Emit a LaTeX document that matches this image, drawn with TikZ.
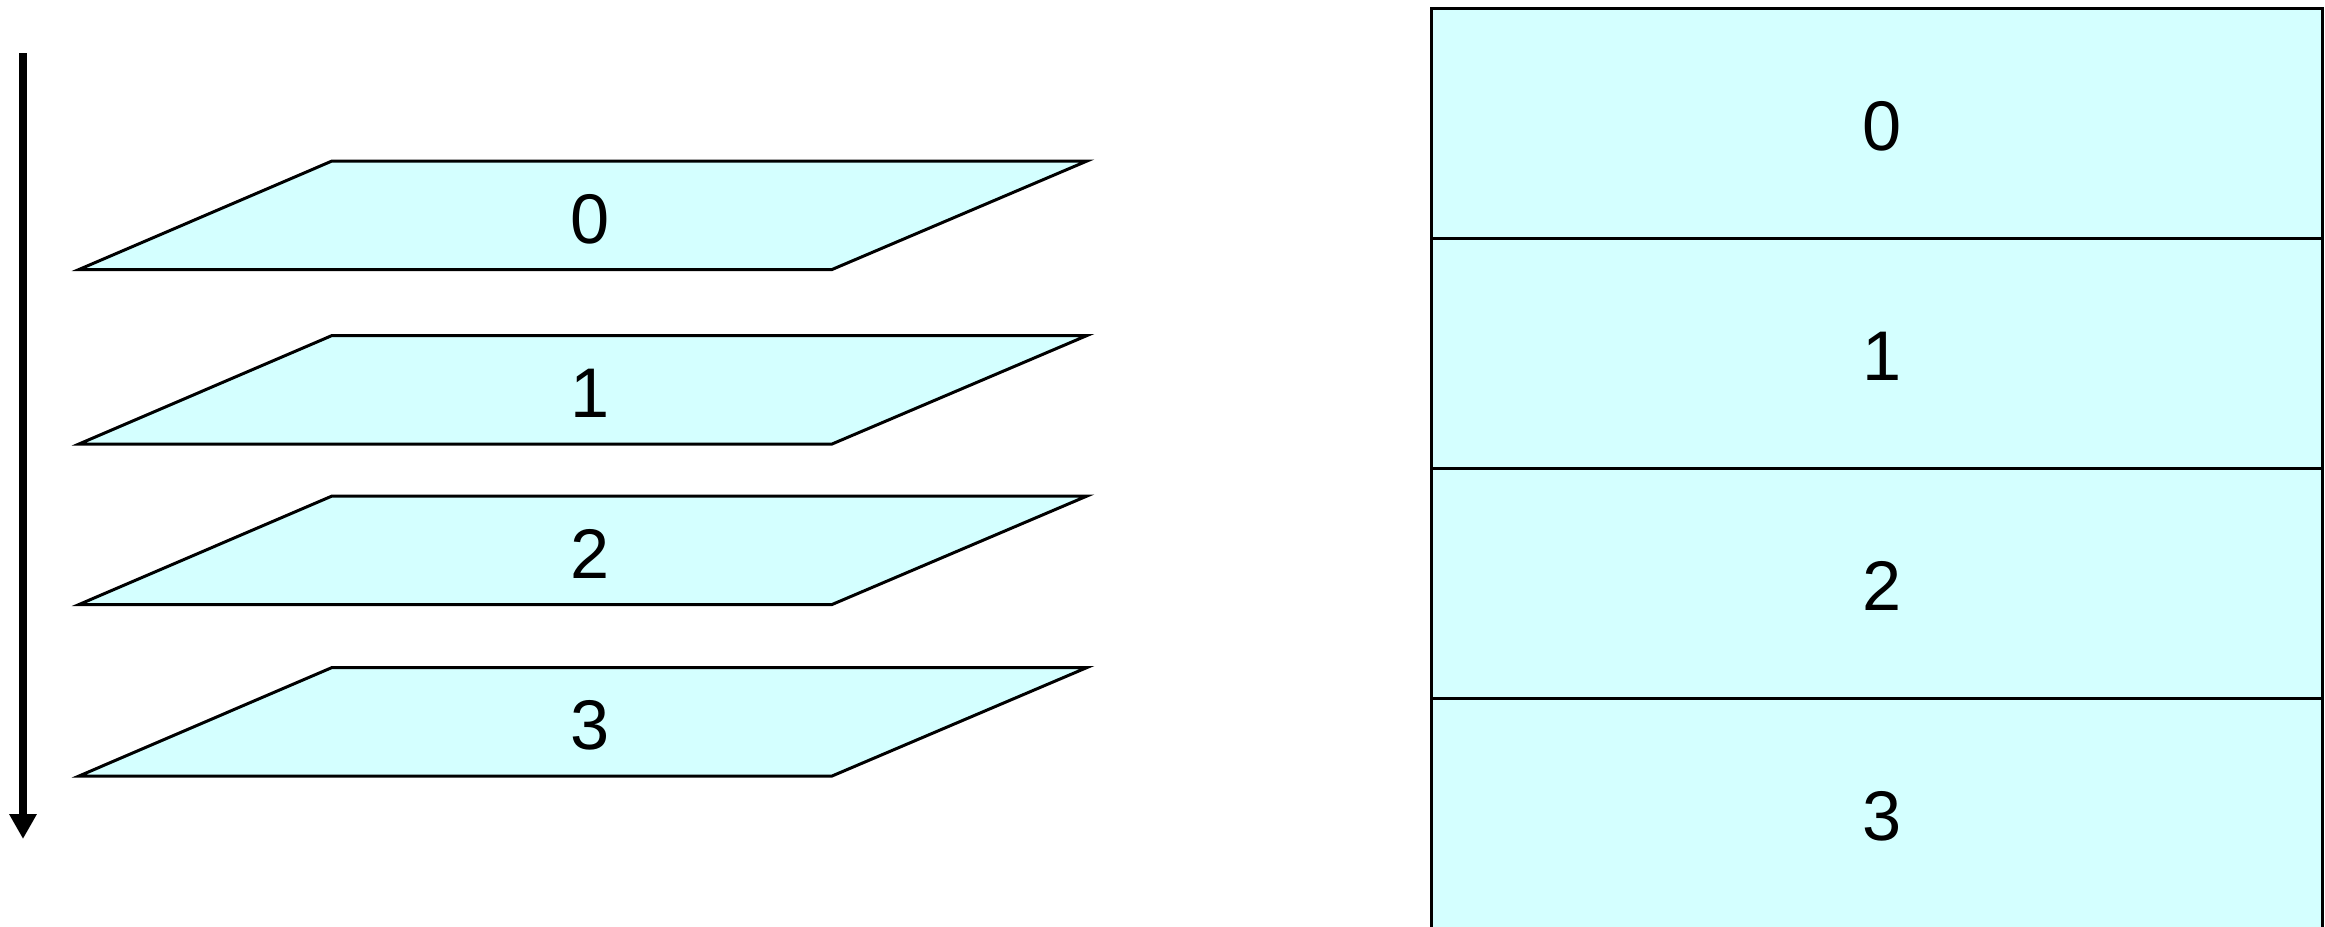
\documentclass[tikz,border=0pt]{standalone}
\usepackage{fontspec}
\setmainfont{Liberation Sans}
\usetikzlibrary{arrows.meta,positioning}
\definecolor{layercyan}{RGB}{212,255,255}

\begin{document}
\begin{tikzpicture}[
    layer plane/.style={draw=black,fill=layercyan,line width=0.85pt,line join=miter},
    layer label/.style={font=\fontsize{20}{24}\selectfont,inner sep=0pt},
    stack cell/.style={draw=black,fill=layercyan,line width=0.85pt,rectangle,
        minimum width=8.91cm,minimum height=2.30cm,inner sep=0pt},
    cell label/.style={font=\fontsize{20}{24}\selectfont,inner sep=0pt},
    time arrow/.style={line width=2.2pt,-{Triangle[width=0.26cm,length=0.25cm]}}
]
    \useasboundingbox (0,0) rectangle (23.25,-9.26);

    % stacked planes, left
    \foreach \i/\t in {0/1.61,1/3.355,2/4.96,3/6.675} {
        \draw[layer plane] (0.79,{-\t-1.085}) -- (8.32,{-\t-1.085})
            -- (10.87,-\t) -- (3.32,-\t) -- cycle;
        \node[layer label] (p\i) at (5.90,{-\t-0.58}) {\i};
    }
    \coordinate (time start) at (0.23,-0.53);
    \coordinate (time end) at (0.23,-8.39);
    \draw[time arrow] (time start) -- (time end);

    % the same layers as one column, right
    \foreach \i/\t in {0/0.08,1/2.38,2/4.68,3/6.98} {
        \node[stack cell] (c\i) at (18.765,{-\t-1.15}) {};
        \node[cell label] (n\i) at (18.82,{-\t-1.18}) {\i};
    }

\end{tikzpicture}
\end{document}
